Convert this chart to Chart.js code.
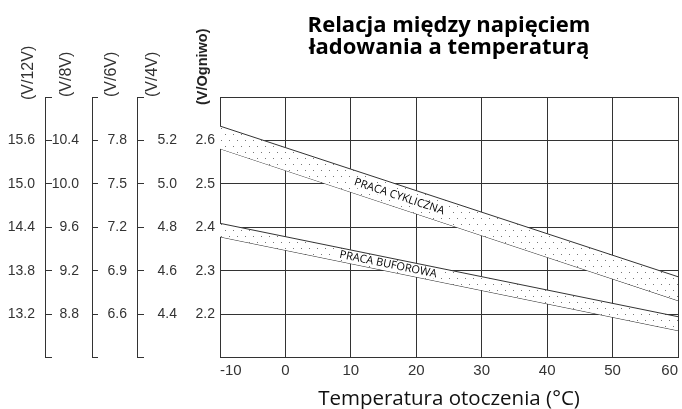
<!DOCTYPE html>
<html>
<head>
<meta charset="utf-8">
<script src="https://cdn.jsdelivr.net/npm/chart.js@4"></script>
<style>
  html, body { margin: 0; background: #fff; }
  canvas { display: block; }
</style>
</head>
<body>
<canvas id="chart" width="682" height="409"></canvas>
<script>
// band edges, volts per cell, at the two ends of the temperature range
const temps = [-10, 60];
const cyclicUpper = [2.633, 2.286];
const cyclicLower = [2.581, 2.231];
const floatUpper = [2.409, 2.194];
const floatLower = [2.378, 2.162];
const bandNames = ['PRACA CYKLICZNA', 'PRACA BUFOROWA'];
const bandLabelAt = [17.4, 15.7]; // temperature where each band name sits

// tick values; first and last only close the axis, they get no label
const xTicks = [-10, 0, 10, 20, 30, 40, 50, 60];
const cellTicks = [2.1, 2.2, 2.3, 2.4, 2.5, 2.6, 2.7];
const v12Ticks = [12.6, 13.2, 13.8, 14.4, 15.0, 15.6, 16.2];
const v8Ticks = [8.4, 8.8, 9.2, 9.6, 10.0, 10.4, 10.8];
const v6Ticks = [6.3, 6.6, 6.9, 7.2, 7.5, 7.8, 8.1];
const v4Ticks = [4.2, 4.4, 4.6, 4.8, 5.0, 5.2, 5.4];

const ink = '#333';
const labelFont = { family: '"Liberation Sans", Arial, sans-serif', size: 14 };
const textFamily = '"Open Sans", sans-serif';

// white fill with sparse staggered dots
function dotPattern() {
    const c = document.createElement('canvas');
    c.width = 8; c.height = 12;
    const g = c.getContext('2d');
    g.fillStyle = '#fff';
    g.fillRect(0, 0, 8, 12);
    g.fillStyle = '#777';
    g.fillRect(1, 2, 1, 1);
    g.fillRect(5, 8, 1, 1);
    return g.createPattern(c, 'repeat');
}

const pts = vals => temps.map((t, i) => ({ x: t, y: vals[i] }));
const tickLabel = (ticks, i) => (i === 0 || i === ticks.length - 1) ? '' : ticks[i].toFixed(1);

function edge(vals, fill, bg) {
    return {
        data: pts(vals),
        yAxisID: 'y',
        borderColor: ink,
        borderWidth: 1,
        pointRadius: 0,
        fill: fill,
        backgroundColor: bg,
    };
}

// extra voltage scale on the left, ticks pointing right of its line
function sideAxis(ticks, weight, width, padding, tick) {
    return {
        type: 'linear',
        position: 'left',
        weight,
        min: ticks[0],
        max: ticks[ticks.length - 1],
        afterBuildTicks: s => { s.ticks = ticks.map(v => ({ value: v })); },
        afterFit: s => { s.width = width; },
        ticks: { padding, color: ink, font: labelFont, callback: (v, i) => tickLabel(ticks, i) },
        grid: tick
            ? { display: true, drawOnChartArea: false, drawTicks: true, tickLength: -tick, color: ink, lineWidth: 1 }
            : { display: false, drawTicks: false, tickLength: 0 },
        border: { display: !!tick, color: ink, width: 1 },
    };
}

const sideTitles = [
    { axis: 'y12', text: '(V/12V)', dx: -16, dy: 3, bold: false },
    { axis: 'y8', text: '(V/8V)', dx: -25, dy: 0, bold: false },
    { axis: 'y6', text: '(V/6V)', dx: -25, dy: 0, bold: false },
    { axis: 'y4', text: '(V/4V)', dx: -32, dy: 0, bold: false },
    { axis: 'y', text: '(V/Ogniwo)', dx: -17, dy: 8, bold: true },
];

const titlesPlugin = {
    id: 'sideTitles',
    afterDraw(chart) {
        const ctx = chart.ctx;
        const top = chart.chartArea.top;
        sideTitles.forEach(t => {
            const s = chart.scales[t.axis];
            ctx.save();
            ctx.translate(s.right + t.dx, top + t.dy);
            ctx.rotate(-Math.PI / 2);
            ctx.font = (t.bold ? 'bold 14.5px ' : '16px ') + '"Liberation Sans", Arial, sans-serif';
            ctx.fillStyle = t.bold ? '#222' : ink;
            ctx.textAlign = 'left';
            ctx.textBaseline = 'middle';
            ctx.fillText(t.text, 0, 0);
            ctx.restore();
        });
    }
};

const bandLabels = {
    id: 'bandLabels',
    afterDatasetsDraw(chart) {
        const { ctx, scales: { x, y } } = chart;
        [[cyclicUpper, cyclicLower], [floatUpper, floatLower]].forEach(([u, l], i) => {
            const m0 = (u[0] + l[0]) / 2, m1 = (u[1] + l[1]) / 2;
            const t = bandLabelAt[i];
            const f = (t - temps[0]) / (temps[1] - temps[0]);
            const px = x.getPixelForValue(t);
            const py = y.getPixelForValue(m0 + (m1 - m0) * f);
            const ang = Math.atan2(y.getPixelForValue(m1) - y.getPixelForValue(m0),
                x.getPixelForValue(temps[1]) - x.getPixelForValue(temps[0]));
            ctx.save();
            ctx.translate(px, py);
            ctx.rotate(ang);
            ctx.font = '11px ' + textFamily;
            const w = ctx.measureText(bandNames[i]).width;
            ctx.fillStyle = '#fff';
            ctx.fillRect(-w / 2 - 3, -5, w + 6, 10);
            ctx.fillStyle = '#000';
            ctx.textAlign = 'center';
            ctx.textBaseline = 'middle';
            ctx.fillText(bandNames[i], 0, 0);
            ctx.restore();
        });
    }
};

const dots = dotPattern();

new Chart(document.getElementById('chart'), {
    type: 'line',
    data: {
        datasets: [
            edge(cyclicUpper, '+1', dots),
            edge(cyclicLower, false, 'transparent'),
            edge(floatUpper, '+1', dots),
            edge(floatLower, false, 'transparent'),
        ]
    },
    options: {
        responsive: false,
        animation: false,
        layout: { padding: { left: 0, right: 2, top: 0, bottom: 0 } },
        plugins: {
            legend: { display: false },
            tooltip: { enabled: false },
            title: {
                display: true,
                fullSize: false,
                text: ['Relacja między napięciem', 'ładowania a temperaturą'],
                color: '#000',
                font: { family: textFamily, size: 22, weight: 'bold', lineHeight: 1.0 },
                padding: { top: 15, bottom: 38 },
            },
        },
        scales: {
            x: {
                type: 'linear',
                min: xTicks[0],
                max: xTicks[xTicks.length - 1],
                afterBuildTicks: s => { s.ticks = xTicks.map(v => ({ value: v })); },
                ticks: { align: 'inner', padding: 4, color: ink, font: { family: labelFont.family, size: 15 } },
                grid: { color: ink, lineWidth: 1, drawTicks: false },
                border: { color: ink, width: 1 },
                title: {
                    display: true,
                    text: 'Temperatura otoczenia (°C)',
                    color: '#111',
                    font: { family: textFamily, size: 20.5, lineHeight: 1 },
                    padding: { top: 5, bottom: 0 },
                },
            },
            y: {
                type: 'linear',
                position: 'left',
                weight: 0,
                min: cellTicks[0],
                max: cellTicks[cellTicks.length - 1],
                afterBuildTicks: s => { s.ticks = cellTicks.map(v => ({ value: v })); },
                afterFit: s => { s.width = 35; },
                ticks: { padding: 5, color: ink, font: labelFont, callback: (v, i) => tickLabel(cellTicks, i) },
                grid: { color: ink, lineWidth: 1, drawTicks: false },
                border: { color: ink, width: 1 },
            },
            y4: sideAxis(v4Ticks, 1, 48, 8, 0),
            y6: sideAxis(v6Ticks, 2, 45, 17, 7),
            y8: sideAxis(v8Ticks, 3, 47, 19, 6),
            y12: sideAxis(v12Ticks, 4, 45, 17, 7),
        }
    },
    plugins: [bandLabels, titlesPlugin]
});
</script>
</body>
</html>
